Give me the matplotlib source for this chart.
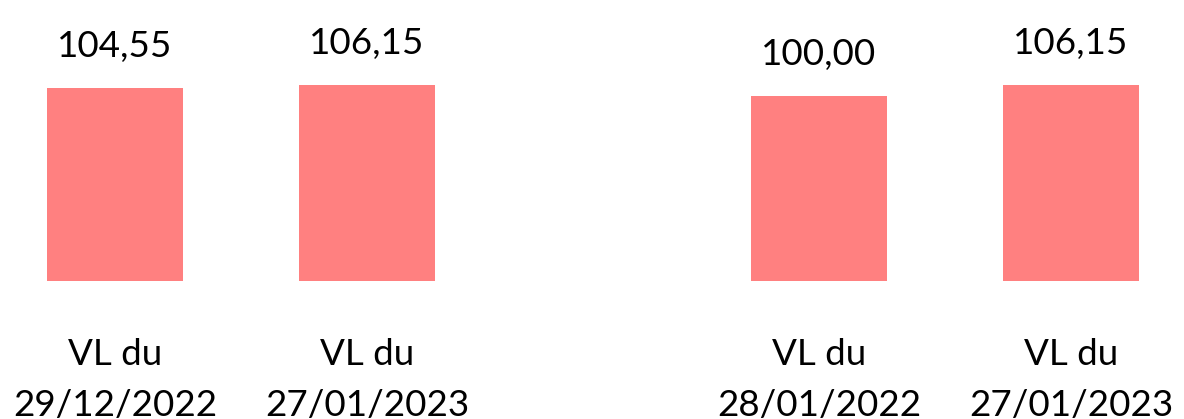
import numpy as np
import matplotlib.pyplot as plt

left_dates = ["29/12/2022", "27/01/2023"]
left_values = [104.55, 106.15]
right_dates = ["28/01/2022", "27/01/2023"]
right_values = [100.00, 106.15]

bar_color = "#FF8080"
plt.rcParams['font.family'] = ['Lato', 'DejaVu Sans']
fs = 26.5

W, H = 1184, 419
fig = plt.figure(figsize=(W / 100, H / 100), dpi=100)

# pixel layout: bar centers at 115/367 and 819/1071, bar bottom 281 px from top
step = 252
x_lo, x_hi = -0.44, 1.44
bottom_px = H - 281
y_top = 150
ax_h = y_top * 1.846


def panel(cx0, dates, values):
    left = cx0 + x_lo * step
    ax = fig.add_axes([left / W, bottom_px / H, (x_hi - x_lo) * step / W, ax_h / H])
    x = np.arange(len(values))
    ax.bar(x, values, width=136 / step, color=bar_color)
    ax.set_xlim(x_lo, x_hi)
    ax.set_ylim(0, y_top)
    ax.axis('off')
    for xi, v, d in zip(x, values, dates):
        ax.annotate(f"{v:.2f}".replace(".", ","), (xi, v), xytext=(0, 22.3),
                    textcoords='offset points', ha='center', va='baseline', fontsize=fs)
        ax.annotate("VL du", (xi, 0), xytext=(0, -60.5), textcoords='offset points',
                    ha='center', va='baseline', fontsize=fs, annotation_clip=False)
        ax.annotate(d, (xi, 0), xytext=(0, -97.2), textcoords='offset points',
                    ha='center', va='baseline', fontsize=fs, annotation_clip=False)
    return ax


panel(115, left_dates, left_values)
panel(819, right_dates, right_values)

fig.savefig("out.png", dpi=100)
